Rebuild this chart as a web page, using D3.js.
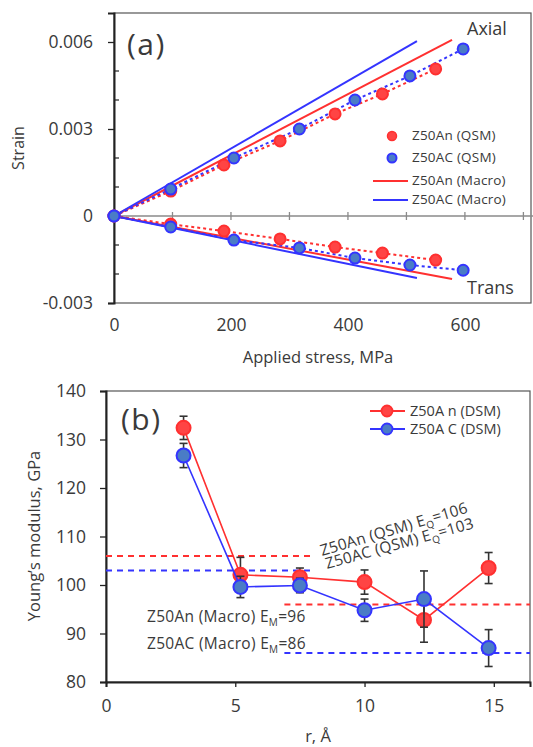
<!DOCTYPE html>
<html><head><meta charset="utf-8">
<script src="https://cdn.jsdelivr.net/npm/d3@7"></script>
<style>body{margin:0;background:#fff}svg{display:block}text{font-family:"Open Sans",sans-serif;fill:#3a3a3a}</style>
</head><body><svg id="c" width="533" height="747"></svg>
<script>
// ---------- Panel (a) data ----------
const stressAn = [0, 97, 188, 284, 378, 459, 550];
const strainAnAxial = [0, 0.00086, 0.00176, 0.00259, 0.00352, 0.00421, 0.00507];
const strainAnTrans = [0, -0.00028, -0.00052, -0.00079, -0.00107, -0.00128, -0.00152];
const stressAC = [0, 97, 205, 317, 412, 506, 597];
const strainACAxial = [0, 0.00093, 0.0020, 0.0030, 0.0040, 0.00483, 0.00576];
const strainACTrans = [0, -0.00038, -0.00083, -0.0011, -0.00145, -0.00169, -0.00187];
const macroAnStress = [0, 578];
const macroAnAxial = [0, 0.00607];
const macroAnTrans = [0, -0.00217];
const macroACStress = [0, 518];
const macroACAxial = [0, 0.00603];
const macroACTrans = [0, -0.00214];
const aXTicks = [0, 200, 400, 600];
const aYTicks = [-0.003, 0, 0.003, 0.006];
const aYLabels = ["-0.003", "0", "0.003", "0.006"];
const aLegend = ["Z50An (QSM)", "Z50AC (QSM)", "Z50An (Macro)", "Z50AC (Macro)"];

// ---------- Panel (b) data ----------
const rVals = [3, 5.2, 7.5, 10, 12.3, 14.8];
const eAn = [132.4, 102.1, 101.6, 100.6, 92.8, 103.5];
const eAnErr = [2.4, 3.6, 1.9, 2.5, 4.6, 3.2];
const eAC = [126.7, 99.6, 99.9, 94.8, 97.1, 87.0];
const eACErr = [2.5, 2.2, 1.5, 2.3, 5.8, 3.8];
const bXTicks = [0, 5, 10, 15];
const bYTicks = [80, 90, 100, 110, 120, 130, 140];
const bLegend = ["Z50A n (DSM)", "Z50A C (DSM)"];
const refQ = [106, 103];
const refM = [96, 86];

const RED = "#ff3030", BLUE = "#3434ff", BLUEFILL = "#4a7cc6", REDFILL = "#ff4444";
const svg = d3.select("#c");

// ================= Panel (a) =================
const ax = d3.scaleLinear().domain([0, 713]).range([114, 531]);
const ay = d3.scaleLinear().domain([-0.003, 0.007]).range([303, 13]);
const ga = svg.append("g");

ga.append("rect").attr("x", 114).attr("y", 13).attr("width", 417).attr("height", 290)
  .attr("fill", "none").attr("stroke", "#555").attr("stroke-width", 1.2);
ga.append("line").attr("x1", ax(0)).attr("x2", 533).attr("y1", ay(0)).attr("y2", ay(0))
  .attr("stroke", "#8a8a8a").attr("stroke-width", 1.5);
ga.selectAll(".zt").data(d3.range(100, 701, 100)).join("line")
  .attr("x1", d => ax(d)).attr("x2", d => ax(d)).attr("y1", ay(0) - 4).attr("y2", ay(0) + 4)
  .attr("stroke", "#8a8a8a").attr("stroke-width", 1.3);
const yAxA = d3.axisLeft(ay).tickValues(aYTicks).tickSize(6).tickFormat((d, i) => aYLabels[i]);
const gya = ga.append("g").attr("transform", "translate(114,0)").call(yAxA);
gya.select(".domain").attr("stroke", "#222").attr("stroke-width", 2);
gya.selectAll(".tick line").attr("stroke", "#222").attr("stroke-width", 1.3);
gya.selectAll(".tick text").attr("x", -21).style("font-size", "17.5px").style("font-family", "Open Sans").attr("fill", "#3a3a3a");
ga.selectAll(".ymin").data(d3.range(-2, 7).filter(v => v % 3 !== 0).map(v => v / 1000)).join("line")
  .attr("x1", 114).attr("x2", 119).attr("y1", d => ay(d)).attr("y2", d => ay(d))
  .attr("stroke", "#222").attr("stroke-width", 1.2);
const xAxA = d3.axisBottom(ax).tickValues(aXTicks).tickSize(0).tickFormat(d3.format("d"));
const gxa = ga.append("g").attr("transform", "translate(0,303)").call(xAxA);
gxa.select(".domain").remove();
gxa.selectAll(".tick text").attr("y", 16).style("font-size", "17.5px").style("font-family", "Open Sans").attr("fill", "#3a3a3a");

const lineA = d3.line().x(d => ax(d[0])).y(d => ay(d[1]));
const zip = (a, b) => a.map((v, i) => [v, b[i]]);
ga.append("path").attr("d", lineA(zip(macroAnStress, macroAnAxial))).attr("stroke", RED).attr("stroke-width", 2).attr("fill", "none");
ga.append("path").attr("d", lineA(zip(macroAnStress, macroAnTrans))).attr("stroke", RED).attr("stroke-width", 2).attr("fill", "none");
ga.append("path").attr("d", lineA(zip(macroACStress, macroACAxial))).attr("stroke", BLUE).attr("stroke-width", 2).attr("fill", "none");
ga.append("path").attr("d", lineA(zip(macroACStress, macroACTrans))).attr("stroke", BLUE).attr("stroke-width", 2).attr("fill", "none");
[[stressAn, strainAnAxial, RED], [stressAn, strainAnTrans, RED], [stressAC, strainACAxial, BLUE], [stressAC, strainACTrans, BLUE]]
  .forEach(([s, e, c]) => ga.append("path").attr("d", lineA(zip(s, e))).attr("stroke", c)
    .attr("stroke-width", 2).attr("stroke-dasharray", "3,3").attr("fill", "none"));
function ptsA(s, e, fill, stroke) {
  ga.append("g").selectAll("circle").data(zip(s, e)).join("circle")
    .attr("cx", d => ax(d[0])).attr("cy", d => ay(d[1])).attr("r", 5.5)
    .attr("fill", fill).attr("stroke", stroke).attr("stroke-width", 2);
}
ptsA(stressAn, strainAnAxial, REDFILL, RED);
ptsA(stressAn, strainAnTrans, REDFILL, RED);
ptsA(stressAC, strainACAxial, BLUEFILL, BLUE);
ptsA(stressAC, strainACTrans, BLUEFILL, BLUE);

ga.append("text").attr("x", 127).attr("y", 55).text("(a)").style("font-size", "30px").style("letter-spacing", "1.5px").attr("fill", "#111");
ga.append("text").attr("x", 467).attr("y", 35).text("Axial").style("font-size", "18px");
ga.append("text").attr("x", 467).attr("y", 294).text("Trans").style("font-size", "18px");
ga.append("text").attr("transform", "translate(24,148) rotate(-90)").attr("text-anchor", "middle").text("Strain").style("font-size", "16px");
ga.append("text").attr("x", 318).attr("y", 363).attr("text-anchor", "middle").text("Applied stress, MPa").style("font-size", "16.5px");
const legA = ga.append("g");
legA.append("circle").attr("cx", 392).attr("cy", 136).attr("r", 4.5).attr("fill", REDFILL).attr("stroke", RED).attr("stroke-width", 1.5);
legA.append("circle").attr("cx", 392).attr("cy", 158).attr("r", 4.5).attr("fill", BLUEFILL).attr("stroke", BLUE).attr("stroke-width", 2);
legA.append("line").attr("x1", 373).attr("x2", 408).attr("y1", 181).attr("y2", 181).attr("stroke", RED).attr("stroke-width", 2);
legA.append("line").attr("x1", 373).attr("x2", 408).attr("y1", 200).attr("y2", 200).attr("stroke", BLUE).attr("stroke-width", 2);
legA.selectAll("text").data(aLegend).join("text").attr("x", 412).attr("y", (d, i) => [140, 162, 185, 204][i])
  .text(d => d).style("font-size", "13.5px").style("letter-spacing", "0.2px").attr("fill", "#333");

// ================= Panel (b) =================
const bx = d3.scaleLinear().domain([0, 16.4]).range([106, 530]);
const by = d3.scaleLinear().domain([80, 140]).range([682, 391]);
const gb = svg.append("g");
gb.append("rect").attr("x", 106).attr("y", 391).attr("width", 424).attr("height", 291)
  .attr("fill", "none").attr("stroke", "#555").attr("stroke-width", 1.2);
const yAxB = d3.axisLeft(by).tickValues(bYTicks).tickSize(6);
const gyb = gb.append("g").attr("transform", "translate(106,0)").call(yAxB);
gyb.select(".domain").attr("stroke", "#222").attr("stroke-width", 2);
gyb.selectAll(".tick line").attr("stroke", "#222").attr("stroke-width", 1.3);
gyb.selectAll(".tick text").attr("x", -20).style("font-size", "17.5px").style("font-family", "Open Sans").attr("fill", "#3a3a3a");
const xAxB = d3.axisBottom(bx).tickValues(bXTicks).tickSize(5);
const gxb = gb.append("g").attr("transform", "translate(0,682)").call(xAxB);
gxb.select(".domain").attr("stroke", "#222").attr("stroke-width", 2);
gxb.selectAll(".tick line").attr("stroke", "#222").attr("stroke-width", 1.3);
gxb.selectAll(".tick text").attr("y", 18).style("font-size", "17.5px").style("font-family", "Open Sans").attr("fill", "#3a3a3a");

gb.append("line").attr("x1", bx(0)).attr("x2", bx(8)).attr("y1", by(refQ[0])).attr("y2", by(refQ[0])).attr("stroke", RED).attr("stroke-width", 2).attr("stroke-dasharray", "6,5");
gb.append("line").attr("x1", bx(0)).attr("x2", bx(8)).attr("y1", by(refQ[1])).attr("y2", by(refQ[1])).attr("stroke", BLUE).attr("stroke-width", 2).attr("stroke-dasharray", "6,5");
gb.append("line").attr("x1", bx(6.9)).attr("x2", bx(16.4)).attr("y1", by(refM[0])).attr("y2", by(refM[0])).attr("stroke", RED).attr("stroke-width", 2).attr("stroke-dasharray", "6,5");
gb.append("line").attr("x1", bx(6.9)).attr("x2", bx(16.4)).attr("y1", by(refM[1])).attr("y2", by(refM[1])).attr("stroke", BLUE).attr("stroke-width", 2).attr("stroke-dasharray", "6,5");

function sub(t, parts) {
  t.append("tspan").text(parts[0]);
  t.append("tspan").text(parts[1]).attr("dy", 4).style("font-size", "10px");
  t.append("tspan").text(parts[2]).attr("dy", -4);
}
sub(gb.append("text").attr("transform", "translate(322,556) rotate(-16.5)").style("font-size", "15.5px").style("letter-spacing", "0.2px"), ["Z50An (QSM) E", "Q", "=106"]);
sub(gb.append("text").attr("transform", "translate(327,569) rotate(-15.5)").style("font-size", "15.5px").style("letter-spacing", "0.2px"), ["Z50AC (QSM) E", "Q", "=103"]);
sub(gb.append("text").attr("x", 147).attr("y", 622).style("font-size", "15.5px").style("letter-spacing", "0.3px"), ["Z50An (Macro) E", "M", "=96"]);
sub(gb.append("text").attr("x", 147).attr("y", 649).style("font-size", "15.5px").style("letter-spacing", "0.3px"), ["Z50AC (Macro) E", "M", "=86"]);

const lineB = d3.line().x(d => bx(d[0])).y(d => by(d[1]));
function seriesB(vals, errs, color, fill) {
  const data = rVals.map((r, i) => ({ r, v: vals[i], e: errs[i] }));
  gb.append("path").attr("d", lineB(data.map(d => [d.r, d.v]))).attr("stroke", color).attr("stroke-width", 1.6).attr("fill", "none");
  const eg = gb.append("g").attr("stroke", "#333").attr("stroke-width", 1.6);
  data.forEach(d => {
    eg.append("line").attr("x1", bx(d.r)).attr("x2", bx(d.r)).attr("y1", by(d.v - d.e)).attr("y2", by(d.v + d.e));
    eg.append("line").attr("x1", bx(d.r) - 4).attr("x2", bx(d.r) + 4).attr("y1", by(d.v - d.e)).attr("y2", by(d.v - d.e));
    eg.append("line").attr("x1", bx(d.r) - 4).attr("x2", bx(d.r) + 4).attr("y1", by(d.v + d.e)).attr("y2", by(d.v + d.e));
  });
  gb.append("g").selectAll("circle").data(data).join("circle")
    .attr("cx", d => bx(d.r)).attr("cy", d => by(d.v)).attr("r", 7)
    .attr("fill", fill).attr("stroke", color).attr("stroke-width", 2);
}
seriesB(eAn, eAnErr, RED, REDFILL);
seriesB(eAC, eACErr, BLUE, BLUEFILL);

gb.append("text").attr("x", 121).attr("y", 430).text("(b)").style("font-size", "30px").style("letter-spacing", "1.5px").attr("fill", "#111");
gb.append("text").attr("transform", "translate(40,536) rotate(-90)").attr("text-anchor", "middle").text("Young’s modulus, GPa").style("font-size", "16.5px");
gb.append("text").attr("x", 318).attr("y", 742).attr("text-anchor", "middle").text("r, Å").style("font-size", "16.5px");
const legB = gb.append("g");
[[RED, REDFILL, 411], [BLUE, BLUEFILL, 429]].forEach(([c, f, y], i) => {
  legB.append("line").attr("x1", 370).attr("x2", 405).attr("y1", y).attr("y2", y).attr("stroke", c).attr("stroke-width", 2);
  legB.append("circle").attr("cx", 387).attr("cy", y).attr("r", 5.5).attr("fill", f).attr("stroke", c).attr("stroke-width", 1.8);
  legB.append("text").attr("x", 410).attr("y", y + 5).text(bLegend[i]).style("font-size", "14.5px").attr("fill", "#333");
});
</script></body></html>
